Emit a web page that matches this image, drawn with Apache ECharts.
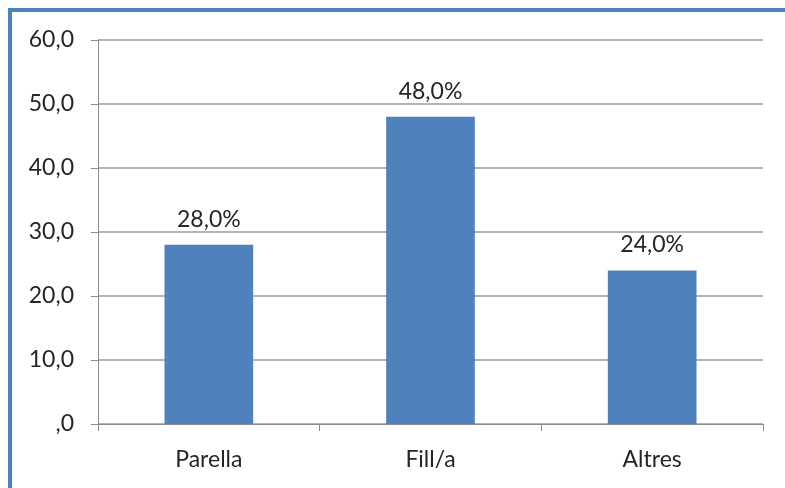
<!DOCTYPE html>
<html>
<head>
<meta charset="utf-8">
<script src="https://cdn.jsdelivr.net/npm/echarts@6/dist/echarts.min.js"></script>
<style>
  html, body { margin: 0; padding: 0; background: #fff; }
  #chart1 { width: 785px; height: 488px; }
</style>
</head>
<body>
<div id="chart1"></div>
<script>
    var categories = ['Parella', 'Fill/a', 'Altres'];
    var values = [28, 48, 24];
    var yTicks = [0, 10, 20, 30, 40, 50, 60];

    // format with comma decimal like the original (",0" for zero)
    function fmt(v) {
        var s = Number(v).toFixed(1).replace('.', ',');
        return v === 0 ? ',0' : s;
    }

    var chart = echarts.init(document.getElementById('chart1'));

    var option = {
        animation: false,
        textStyle: {
            fontFamily: 'Lato',
            color: '#262626'
        },
        graphic: [{
            type: 'rect',
            shape: { x: 10, y: 10, width: 900, height: 700 },
            style: { fill: 'none', stroke: '#4f81bd', lineWidth: 4 },
            silent: true
        }],
        grid: {
            left: 98,
            right: 22,
            top: 40,
            bottom: 64
        },
        xAxis: {
            type: 'category',
            data: categories,
            axisLine: { show: true, lineStyle: { color: '#8c8c8c', width: 1 } },
            axisTick: { show: true, length: 7, lineStyle: { color: '#8c8c8c' } },
            axisLabel: { fontSize: 23, color: '#262626', margin: 24 },
            splitLine: { show: false }
        },
        yAxis: {
            type: 'value',
            min: yTicks[0],
            max: yTicks[yTicks.length - 1],
            interval: 10,
            axisLine: { show: true, lineStyle: { color: '#8c8c8c', width: 1 } },
            axisTick: { show: true, length: 7, lineStyle: { color: '#8c8c8c' } },
            axisLabel: { fontSize: 23, color: '#262626', margin: 24, formatter: fmt },
            splitLine: { show: true, lineStyle: { color: '#b4b4b4', width: 2 } }
        },
        series: [{
            type: 'bar',
            data: values,
            barWidth: '40%',
            itemStyle: { color: '#4f81bd' },
            label: {
                show: true,
                position: 'top',
                distance: 14,
                fontSize: 23,
                color: '#262626',
                formatter: function (p) { return fmt(p.value) + '%'; }
            }
        }]
    };

    chart.setOption(option, true);
</script>
</body>
</html>
